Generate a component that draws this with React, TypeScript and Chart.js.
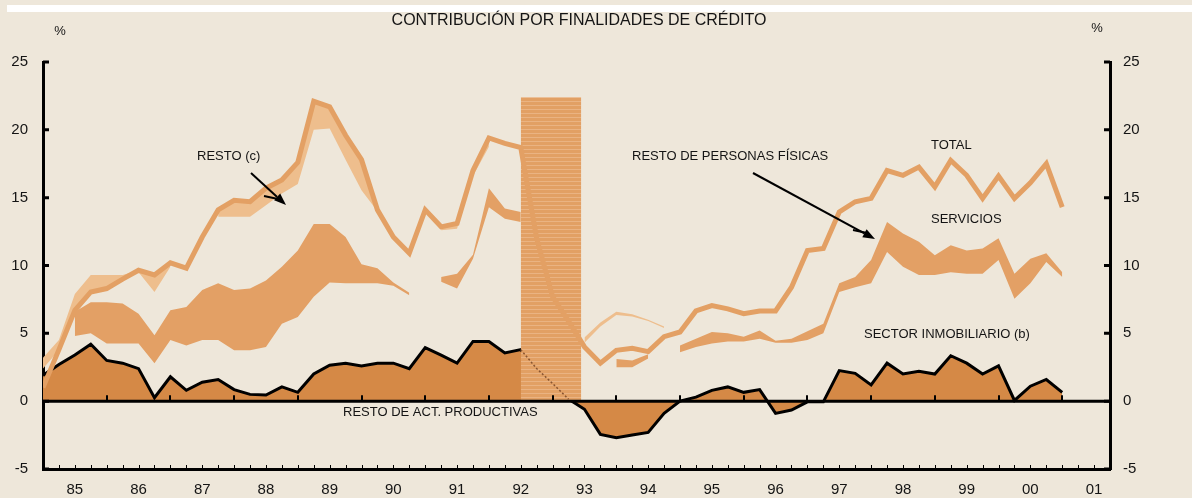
import React, { useEffect, useRef } from "react";
import { Chart, registerables } from "chart.js";

Chart.register(...registerables);

// ---------- data ----------
const years = [1985, 1986, 1987, 1988, 1989, 1990, 1991, 1992, 1993, 1994, 1995, 1996, 1997, 1998, 1999, 2000, 2001];
const yearLabels = ["85", "86", "87", "88", "89", "90", "91", "92", "93", "94", "95", "96", "97", "98", "99", "00", "01"];
const quarterSteps = [0, 0.25, 0.5, 0.75];
// quarterly observations 1985.00 ... 2001.00
const quarters = years.flatMap((y) => quarterSteps.map((q) => y + q)).slice(0, 65);
const yTicks = [-5, 0, 5, 10, 15, 20, 25];

const total = [
  1.0, 3.8, 6.7, 8.05, 8.3, 9.0, 9.65, 9.3, 10.2, 9.8, 12.1, 14.1, 14.8, 14.7, 15.7, 16.3,
  17.6, 22.1, 21.7, 19.6, 17.8, 14.1, 12.1, 10.9, 14.1, 12.85, 13.1, 17.0, 19.4, 19.0, 18.7, 12.0,
  7.7, 5.9, 4.0, 2.8, 3.75, 3.9, 3.65, 4.75, 5.1, 6.65, 7.05, 6.8, 6.45, 6.65, 6.65, 8.4,
  11.1, 11.25, 13.95, 14.7, 14.95, 17.0, 16.65, 17.25, 15.8, 17.75, 16.65, 14.95, 16.6, 14.95, 16.1, 17.5,
  14.3,
];

const sectorInmobiliario = [
  1.9, 2.7, 3.4, 4.2, 3.0, 2.8, 2.4, 0.25, 1.8, 0.8, 1.4, 1.6, 0.85, 0.5, 0.45, 1.05,
  0.65, 2.0, 2.65, 2.8, 2.6, 2.8, 2.8, 2.4, 3.95, 3.4, 2.8, 4.4, 4.4, 3.55, 3.8, 2.4,
  1.3, 0.15, -0.6, -2.45, -2.7, -2.5, -2.3, -0.9, 0.0, 0.3, 0.8, 1.05, 0.65, 0.85, -0.9, -0.65,
  -0.05, -0.05, 2.25, 2.05, 1.2, 2.8, 2.0, 2.2, 2.0, 3.35, 2.8, 2.0, 2.6, 0.05, 1.1, 1.6,
  0.65,
];

const serviciosLow = [
  null, null, 4.8, 5.0, 4.25, 4.25, 4.25, 2.8, 4.5, 4.1, 4.5, 4.5, 3.75, 3.75, 4.0, 5.7,
  6.2, 7.7, 8.75, 8.7, 8.7, 8.7, 8.5, 7.8, null, 8.8, 8.3, 10.5, 14.3, 13.45, 13.2, null,
  null, null, null, null, 2.5, 2.5, 3.15, null, 3.6, 4.0, 4.25, 4.4, 4.4, 4.6, 4.3, 4.3,
  4.5, 5.0, 8.05, 8.4, 8.7, 11.0, 9.9, 9.3, 9.3, 9.5, 9.4, 9.4, 10.4, 7.55, 8.7, 10.25,
  9.15,
];
const serviciosHigh = [
  null, null, 6.6, 7.3, 7.3, 7.2, 6.45, 4.85, 6.7, 6.95, 8.2, 8.7, 8.2, 8.3, 8.9, 9.9,
  11.1, 13.05, 13.05, 12.1, 10.1, 9.8, 8.75, 8.0, null, 9.15, 9.4, 10.8, 15.7, 14.2, 13.95, null,
  null, null, null, null, 3.1, 3.0, 3.45, null, 4.1, 4.6, 5.1, 5.0, 4.75, 5.2, 4.45, 4.6,
  5.15, 5.7, 8.7, 9.15, 10.4, 13.2, 12.35, 11.75, 10.75, 11.5, 11.1, 11.25, 12.0, 9.4, 10.5, 10.9,
  9.5,
];

const restoLow = [
  2.4, 3.75, 6.5, 8.0, 8.3, 9.0, 9.5, 8.05, 9.9, null, null, 13.6, 13.6, 13.6, 14.45, 15.3,
  16.0, 20.0, 20.1, 17.8, 15.55, 14.0, null, null, null, 12.6, 12.7, 16.6, 18.75, null, null, null,
  null, null, 4.3, 5.5, 6.35, 6.25, 5.9, 5.4, null, null, null, null, null, null, null, null,
  null, null, null, null, null, null, null, null, null, null, null, null, null, null, null, null,
  null,
];
const restoHigh = [
  3.2, 4.5, 7.9, 9.3, 9.3, 9.3, 9.65, 9.3, 10.2, null, null, 14.1, 14.8, 14.7, 15.7, 16.3,
  17.6, 22.1, 21.7, 19.6, 17.8, 14.1, null, null, null, 12.85, 13.1, 17.0, 19.4, null, null, null,
  null, null, 4.7, 5.8, 6.6, 6.4, 6.0, 5.5, null, null, null, null, null, null, null, null,
  null, null, null, null, null, null, null, null, null, null, null, null, null, null, null, null,
  null,
];

const shadedPeriod = [1992.5, 1993.45];
const shadedTop = 22.4;

// ---------- styles ----------
const FONT = "'Liberation Sans', Arial, Helvetica, sans-serif";
const BG = "#EEE7DA";
const MED = "#E3A065";
const LIGHT = "#EEBE8D";
const DARK = "#D58946";
const LINE = "#E3A064";
const TEXT = "#141414";

const annotations = [
  { text: "CONTRIBUCIÓN POR FINALIDADES DE CRÉDITO", x: 579, y: 21, size: 16, align: "center" },
  { text: "%", x: 60, y: 31, size: 13, align: "center" },
  { text: "%", x: 1097, y: 28, size: 13, align: "center" },
  { text: "RESTO (c)", x: 197, y: 156, size: 13, align: "left" },
  { text: "RESTO DE PERSONAS FÍSICAS", x: 632, y: 156, size: 13, align: "left" },
  { text: "TOTAL", x: 931, y: 145, size: 13, align: "left" },
  { text: "SERVICIOS", x: 931, y: 219, size: 13, align: "left" },
  { text: "SECTOR INMOBILIARIO (b)", x: 864, y: 334, size: 13, align: "left" },
  { text: "RESTO DE ACT. PRODUCTIVAS", x: 343, y: 412, size: 13, align: "left" },
];
const arrows = [
  { from: [251, 173], to: [286, 205] },
  { from: [753, 173], to: [875, 239] },
];

const overlayPlugin = {
  id: "overlay",
  beforeDraw(chart: any) {
    const { ctx, width, height } = chart;
    ctx.save();
    ctx.fillStyle = BG;
    ctx.fillRect(0, 0, width, height);
    ctx.fillStyle = "#FFFFFF";
    ctx.fillRect(7, 5, width - 7, 7);
    ctx.restore();
  },
  afterDatasetsDraw(chart: any) {
    const { ctx, chartArea, scales } = chart;
    const y0 = scales.y.getPixelForValue(0);
    ctx.save();
    ctx.strokeStyle = "#000";
    ctx.lineWidth = 3;
    ctx.beginPath();
    ctx.moveTo(chartArea.left, y0);
    ctx.lineTo(chartArea.right, y0);
    ctx.stroke();
    ctx.lineWidth = 2;
    for (let i = 1; i < years.length; i++) {
      const x = Math.round(scales.x.getPixelForValue(years[i]));
      ctx.beginPath();
      ctx.moveTo(x, y0);
      ctx.lineTo(x, y0 - 6);
      ctx.stroke();
    }
    ctx.restore();
  },
  afterDraw(chart: any) {
    const { ctx, chartArea, scales } = chart;
    ctx.save();
    ctx.strokeStyle = "#000";
    // inward ticks on both value axes
    ctx.lineWidth = 3;
    for (const v of yTicks) {
      const y = scales.y.getPixelForValue(v);
      ctx.beginPath();
      ctx.moveTo(chartArea.left, y);
      ctx.lineTo(chartArea.left + 6, y);
      ctx.moveTo(chartArea.right, y);
      ctx.lineTo(chartArea.right - 6, y);
      ctx.stroke();
    }
    // quarterly minor ticks on the bottom axis
    ctx.lineWidth = 1;
    for (const q of quarters) {
      if (q <= years[0]) continue;
      const x = Math.round(scales.x.getPixelForValue(q)) + 0.5;
      ctx.beginPath();
      ctx.moveTo(x, chartArea.bottom);
      ctx.lineTo(x, chartArea.bottom - 4);
      ctx.stroke();
    }
    for (let k = 0; k < 3; k++) {
      const q = 2001 + (k + 1) * 0.25;
      const x = Math.round(scales.x.getPixelForValue(q)) + 0.5;
      if (x < chartArea.right - 2) {
        ctx.beginPath();
        ctx.moveTo(x, chartArea.bottom);
        ctx.lineTo(x, chartArea.bottom - 4);
        ctx.stroke();
      }
    }
    // texts
    ctx.fillStyle = TEXT;
    ctx.textBaseline = "middle";
    for (const a of annotations) {
      ctx.font = `${a.size}px ${FONT}`;
      ctx.textAlign = a.align as CanvasTextAlign;
      ctx.fillText(a.text, a.x, a.y);
    }
    // arrows
    ctx.fillStyle = "#000";
    ctx.lineWidth = 2;
    for (const ar of arrows) {
      const [x1, y1] = ar.from;
      const [x2, y2] = ar.to;
      const ang = Math.atan2(y2 - y1, x2 - x1);
      const hl = 12;
      const hw = 4.5;
      const bx = x2 - hl * Math.cos(ang);
      const by = y2 - hl * Math.sin(ang);
      ctx.beginPath();
      ctx.moveTo(x1, y1);
      ctx.lineTo(bx, by);
      ctx.stroke();
      ctx.beginPath();
      ctx.moveTo(x2, y2);
      ctx.lineTo(bx + hw * Math.sin(ang), by - hw * Math.cos(ang));
      ctx.lineTo(bx - hw * Math.sin(ang), by + hw * Math.cos(ang));
      ctx.closePath();
      ctx.fill();
      ctx.beginPath();
      ctx.moveTo(x2 - 22, y2 - 9 + 9 * Math.sin(ang) * 0);
      ctx.lineTo(x2 - 8, y2 - 6);
      ctx.stroke();
    }
    ctx.restore();
  },
};

export default function App() {
  const ref = useRef<HTMLCanvasElement>(null);

  useEffect(() => {
    const canvas = ref.current;
    if (!canvas) return;
    document.body.style.margin = "0";
    document.body.style.background = BG;
    const c2 = canvas.getContext("2d") as CanvasRenderingContext2D;
    const pc = document.createElement("canvas");
    pc.width = 8;
    pc.height = 4;
    const p = pc.getContext("2d") as CanvasRenderingContext2D;
    p.fillStyle = "#E2A064";
    p.fillRect(0, 0, 8, 4);
    p.fillStyle = "#EAB382";
    p.fillRect(0, 1, 8, 1);
    const pattern = c2.createPattern(pc, "repeat");

    const pts = (arr: (number | null)[]) => quarters.map((x, i) => ({ x, y: arr[i] }));
    const clear = "rgba(0,0,0,0)";
    const inShade = (c: any) =>
      c.p0.parsed.x >= shadedPeriod[0] - 1e-6 && c.p1.parsed.x <= shadedPeriod[1];

    const yAxis = (position: "left" | "right", width: number, padding: number) => ({
      type: "linear" as const,
      position,
      min: -5,
      max: 25,
      z: 1,
      afterBuildTicks: (axis: any) => {
        axis.ticks = yTicks.map((v) => ({ value: v }));
      },
      afterFit: (axis: any) => {
        axis.width = width;
      },
      ticks: {
        padding,
        color: TEXT,
        font: { family: FONT, size: 15 },
        callback: (v: any) => String(v),
      },
      grid: { display: false, drawTicks: false },
      border: { display: true, color: "#000", width: 3 },
    });

    const chart = new Chart(canvas, {
      type: "line",
      data: {
        datasets: [
          {
            label: "TOTAL",
            data: pts(total),
            borderColor: LINE,
            borderWidth: 5,
            borderJoinStyle: "miter",
            pointRadius: 0,
            fill: false,
          },
          {
            label: "tramo sombreado",
            data: pts(sectorInmobiliario),
            borderColor: clear,
            borderWidth: 1.5,
            pointRadius: 0,
            fill: false,
            segment: {
              borderColor: (c: any) => (inShade(c) ? "#8A5530" : clear),
              borderDash: (c: any) => (inShade(c) ? [2, 2] : undefined),
            },
          },
          {
            label: "periodo",
            data: [
              { x: shadedPeriod[0], y: shadedTop },
              { x: shadedPeriod[1], y: shadedTop },
            ],
            borderColor: clear,
            borderWidth: 1,
            backgroundColor: pattern as any,
            pointRadius: 0,
            fill: "origin",
          },
          {
            label: "RESTO",
            data: pts(restoHigh),
            borderColor: clear,
            borderWidth: 1,
            backgroundColor: LIGHT,
            pointRadius: 0,
            fill: "+1",
          },
          {
            label: "RESTO base",
            data: pts(restoLow),
            borderColor: clear,
            borderWidth: 1,
            pointRadius: 0,
            fill: false,
          },
          {
            label: "SERVICIOS",
            data: pts(serviciosHigh),
            borderColor: clear,
            borderWidth: 1,
            backgroundColor: MED,
            pointRadius: 0,
            fill: "+1",
          },
          {
            label: "SERVICIOS base",
            data: pts(serviciosLow),
            borderColor: clear,
            borderWidth: 1,
            pointRadius: 0,
            fill: false,
          },
          {
            label: "SECTOR INMOBILIARIO",
            data: pts(sectorInmobiliario),
            borderColor: "#000",
            borderWidth: 3,
            borderJoinStyle: "miter",
            backgroundColor: DARK,
            pointRadius: 0,
            fill: "origin",
          },
        ],
      },
      options: {
        responsive: false,
        animation: false,
        devicePixelRatio: 1,
        layout: { padding: { top: 62, left: 0, right: 0, bottom: 0 } },
        plugins: {
          legend: { display: false },
          tooltip: { enabled: false },
        },
        elements: { line: { tension: 0 } },
        scales: {
          x: {
            type: "linear",
            min: 1985,
            max: 2001.75,
            z: 1,
            afterBuildTicks: (axis: any) => {
              axis.ticks = years.map((y) => ({ value: y + 0.5 }));
            },
            afterFit: (axis: any) => {
              axis.height = 29;
            },
            ticks: {
              autoSkip: false,
              maxRotation: 0,
              padding: 12,
              color: TEXT,
              font: { family: FONT, size: 15 },
              callback: (_v: any, i: number) => yearLabels[i],
            },
            grid: { display: false, drawTicks: false },
            border: { display: true, color: "#000", width: 3 },
          },
          y: yAxis("left", 43, 15),
          y2: yAxis("right", 82, 13),
        },
      } as any,
      plugins: [overlayPlugin],
    });
    return () => chart.destroy();
  }, []);

  return (
    <div style={{ position: "fixed", left: 0, top: 0, width: 1192, height: 498, background: BG }}>
      <canvas ref={ref} width={1192} height={498} style={{ display: "block", width: 1192, height: 498 }} />
    </div>
  );
}
